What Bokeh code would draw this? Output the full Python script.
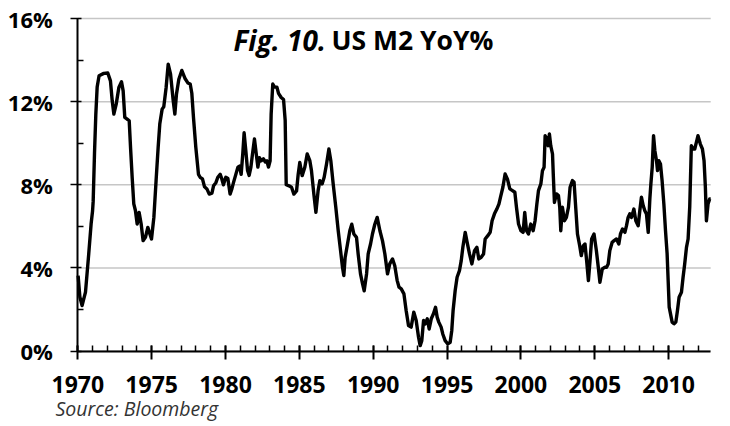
from bokeh.plotting import figure
from bokeh.models import Range1d, FixedTicker, PrintfTickFormatter, Label, ColumnDataSource
from bokeh.embed import file_html
from bokeh.resources import INLINE

title_italic = "Fig. 10."
title_bold = "US M2 YoY%"
source_note = "Source: Bloomberg"

x_ticks = [1970, 1975, 1980, 1985, 1990, 1995, 2000, 2005, 2010]
x_start, x_end = 1970, 2012.85
y_ticks = [0, 4, 8, 12, 16]
y_minor = [2, 6, 10, 14]

years = [
    1970.02, 1970.14, 1970.29, 1970.52, 1970.74, 1970.90, 1971.00, 1971.04, 1971.13, 1971.22,
    1971.31, 1971.44, 1971.76, 1972.03, 1972.21, 1972.33, 1972.44, 1972.60, 1972.78, 1972.96,
    1973.07, 1973.18, 1973.34, 1973.48, 1973.57, 1973.68, 1973.79, 1973.90, 1974.02, 1974.15,
    1974.29, 1974.42, 1974.58, 1974.74, 1974.88, 1974.99, 1975.15, 1975.30, 1975.44, 1975.55,
    1975.71, 1975.82, 1975.98, 1976.12, 1976.28, 1976.46, 1976.57, 1976.68, 1976.84, 1977.04,
    1977.27, 1977.45, 1977.61, 1977.72, 1977.83, 1977.99, 1978.17, 1978.28, 1978.44, 1978.58,
    1978.74, 1978.90, 1979.08, 1979.19, 1979.35, 1979.48, 1979.64, 1979.75, 1979.86, 1980.02,
    1980.16, 1980.31, 1980.43, 1980.54, 1980.70, 1980.84, 1980.95, 1981.06, 1981.17, 1981.26,
    1981.38, 1981.49, 1981.60, 1981.72, 1981.83, 1981.96, 1982.08, 1982.19, 1982.30, 1982.41,
    1982.57, 1982.69, 1982.80, 1982.91, 1983.02, 1983.09, 1983.20, 1983.32, 1983.48, 1983.59,
    1983.77, 1983.93, 1984.04, 1984.11, 1984.30, 1984.47, 1984.63, 1984.81, 1984.92, 1985.03,
    1985.19, 1985.37, 1985.53, 1985.71, 1985.82, 1985.98, 1986.12, 1986.27, 1986.39, 1986.54,
    1986.68, 1986.84, 1987.00, 1987.13, 1987.29, 1987.47, 1987.63, 1987.79, 1987.92, 1988.01,
    1988.10, 1988.26, 1988.42, 1988.55, 1988.69, 1988.87, 1988.98, 1989.14, 1989.28, 1989.39,
    1989.55, 1989.66, 1989.82, 1989.95, 1990.11, 1990.27, 1990.45, 1990.63, 1990.79, 1990.97,
    1991.12, 1991.31, 1991.46, 1991.62, 1991.75, 1991.90, 1992.08, 1992.23, 1992.39, 1992.57,
    1992.75, 1992.91, 1993.07, 1993.18, 1993.29, 1993.41, 1993.52, 1993.66, 1993.79, 1993.93,
    1994.08, 1994.22, 1994.33, 1994.44, 1994.60, 1994.71, 1994.87, 1995.05, 1995.21, 1995.32,
    1995.41, 1995.55, 1995.68, 1995.84, 1995.96, 1996.07, 1996.23, 1996.36, 1996.52, 1996.68,
    1996.86, 1997.02, 1997.15, 1997.31, 1997.47, 1997.58, 1997.76, 1997.92, 1998.05, 1998.21,
    1998.37, 1998.51, 1998.62, 1998.78, 1998.93, 1999.09, 1999.25, 1999.43, 1999.59, 1999.70,
    1999.84, 2000.00, 2000.15, 2000.26, 2000.38, 2000.51, 2000.67, 2000.83, 2000.96, 2001.08,
    2001.19, 2001.35, 2001.46, 2001.57, 2001.64, 2001.75, 2001.84, 2001.93, 2002.02, 2002.14,
    2002.20, 2002.27, 2002.41, 2002.54, 2002.63, 2002.70, 2002.81, 2002.95, 2003.08, 2003.22,
    2003.33, 2003.49, 2003.60, 2003.71, 2003.83, 2003.98, 2004.09, 2004.23, 2004.34, 2004.45,
    2004.57, 2004.68, 2004.79, 2004.95, 2005.11, 2005.24, 2005.35, 2005.51, 2005.69, 2005.80,
    2005.91, 2006.02, 2006.18, 2006.31, 2006.47, 2006.63, 2006.74, 2006.88, 2007.04, 2007.15,
    2007.26, 2007.37, 2007.49, 2007.65, 2007.78, 2007.94, 2008.05, 2008.16, 2008.28, 2008.39,
    2008.50, 2008.62, 2008.73, 2008.80, 2008.89, 2008.98, 2009.07, 2009.18, 2009.25, 2009.34,
    2009.45, 2009.56, 2009.68, 2009.79, 2009.90, 2009.97, 2010.04, 2010.13, 2010.24, 2010.37,
    2010.49, 2010.60, 2010.71, 2010.87, 2010.98, 2011.09, 2011.21, 2011.32, 2011.43, 2011.54,
    2011.66, 2011.77, 2011.88, 2011.99, 2012.15, 2012.29, 2012.40, 2012.49, 2012.56, 2012.67,
    2012.78, 2012.85,
]

m2_yoy = [
    3.63, 2.60, 2.19, 2.83, 4.67, 6.11, 6.75, 7.20, 9.50, 11.40,
    12.70, 13.25, 13.36, 13.38, 13.00, 12.04, 11.40, 11.88, 12.68, 12.96,
    12.52, 11.24, 11.16, 11.08, 9.80, 8.36, 7.08, 6.76, 6.11, 6.67,
    6.11, 5.31, 5.47, 5.95, 5.63, 5.39, 6.43, 8.20, 9.80, 10.92,
    11.64, 11.75, 12.68, 13.80, 13.32, 12.04, 11.40, 12.36, 13.08, 13.50,
    13.10, 12.90, 12.85, 12.40, 11.25, 9.80, 8.50, 8.36, 8.28, 7.90,
    7.80, 7.55, 7.60, 7.95, 8.10, 8.36, 8.50, 8.28, 8.00, 8.36,
    8.30, 7.55, 7.80, 8.10, 8.50, 8.85, 8.90, 8.50, 9.50, 10.50,
    9.60, 8.70, 8.45, 8.85, 9.50, 10.20, 9.50, 8.85, 9.30, 9.15,
    9.25, 9.10, 9.15, 8.85, 9.15, 11.40, 12.85, 12.70, 12.70, 12.40,
    12.20, 12.10, 11.10, 8.00, 7.95, 7.88, 7.55, 7.70, 8.50, 9.07,
    8.44, 8.84, 9.48, 9.16, 8.68, 7.56, 6.67, 7.72, 8.20, 8.04,
    8.36, 9.00, 9.72, 9.16, 8.04, 6.90, 5.80, 4.83, 4.03, 3.63,
    4.50, 5.15, 5.80, 6.10, 5.63, 5.47, 4.67, 3.71, 3.23, 2.90,
    3.71, 4.67, 5.15, 5.63, 6.10, 6.43, 5.80, 5.30, 4.67, 3.71,
    4.19, 4.43, 4.10, 3.40, 3.07, 2.99, 2.75, 1.95, 1.23, 1.15,
    1.87, 1.47, 0.66, 0.26, 0.50, 1.47, 1.30, 1.55, 1.06, 1.55,
    1.79, 2.10, 1.63, 1.39, 1.15, 0.82, 0.50, 0.34, 0.42, 0.99,
    1.95, 2.91, 3.55, 3.87, 4.35, 4.99, 5.71, 5.23, 4.67, 4.19,
    4.83, 4.99, 4.43, 4.51, 4.67, 5.39, 5.55, 5.71, 6.27, 6.60,
    6.83, 7.07, 7.40, 7.88, 8.52, 8.27, 7.80, 7.72, 7.64, 6.92,
    6.11, 5.79, 5.71, 6.67, 5.79, 5.63, 6.11, 5.79, 6.27, 7.07,
    7.72, 8.04, 8.68, 8.84, 10.36, 10.20, 9.88, 10.44, 9.88, 9.48,
    8.36, 7.15, 7.56, 7.48, 6.92, 5.79, 6.92, 6.27, 6.43, 6.92,
    7.88, 8.20, 8.12, 6.92, 5.63, 5.07, 4.59, 5.07, 5.15, 4.35,
    3.39, 4.35, 5.39, 5.63, 4.83, 4.03, 3.31, 3.95, 4.03, 4.03,
    4.19, 4.83, 5.23, 5.31, 5.39, 5.15, 5.63, 5.87, 5.71, 6.03,
    6.43, 6.60, 6.43, 6.83, 6.27, 6.03, 6.75, 7.40, 7.00, 6.75,
    6.60, 5.71, 7.32, 8.04, 8.84, 10.36, 9.64, 9.16, 8.68, 9.16,
    9.00, 8.20, 7.07, 5.79, 4.67, 3.39, 2.11, 1.79, 1.39, 1.31,
    1.39, 1.95, 2.59, 2.83, 3.55, 4.19, 4.99, 5.39, 6.92, 9.88,
    9.72, 9.72, 10.04, 10.36, 9.96, 9.72, 9.16, 7.88, 6.27, 7.07,
    7.32, 7.32,
]

src = ColumnDataSource(data=dict(year=years, yoy=m2_yoy))
grid_src = ColumnDataSource(data=dict(
    x0=[x_start] * len(y_ticks), x1=[x_end] * len(y_ticks), y=y_ticks))

# frame covers the whole canvas; axes are pinned at 1970 / 0%
p = figure(
    width=730, height=426,
    x_range=Range1d(1964.766, 2014.191), y_range=Range1d(-3.633, 16.867),
    output_backend="svg", toolbar_location=None,
    min_border_left=0, min_border_right=0, min_border_top=0, min_border_bottom=0,
)
p.outline_line_color = None
p.background_fill_color = "white"
p.border_fill_color = "white"
p.xgrid.visible = False
p.ygrid.visible = False

p.segment(x0="x0", y0="y", x1="x1", y1="y", source=grid_src,
          line_color="#c6c6c6", line_width=1.5)
p.line("year", "yoy", source=src, line_color="black", line_width=3.4, line_join="round")

# x axis
xa = p.xaxis[0]
xa.fixed_location = 0
xa.bounds = (x_start, x_end)
xa.ticker = FixedTicker(ticks=x_ticks, minor_ticks=list(range(1970, 2013)))
xa.formatter = PrintfTickFormatter(format="%d")
xa.axis_line_color = "black"
xa.axis_line_width = 2
xa.major_tick_line_color = "black"
xa.major_tick_line_width = 2
xa.major_tick_in = 6
xa.major_tick_out = 8
xa.minor_tick_line_color = "black"
xa.minor_tick_line_width = 1.5
xa.minor_tick_in = 6
xa.minor_tick_out = 0
xa.major_label_text_font = "Open Sans"
xa.major_label_text_font_style = "bold"
xa.major_label_text_font_size = "23px"
xa.major_label_text_color = "black"
xa.major_label_standoff = 17

# y axis
ya = p.yaxis[0]
ya.fixed_location = x_start
ya.bounds = (0, 16)
ya.ticker = FixedTicker(ticks=y_ticks, minor_ticks=y_minor)
ya.formatter = PrintfTickFormatter(format="%d%%")
ya.axis_line_color = "black"
ya.axis_line_width = 2
ya.major_tick_line_color = "black"
ya.major_tick_line_width = 1.5
ya.major_tick_in = 4
ya.major_tick_out = 7
ya.minor_tick_line_color = "black"
ya.minor_tick_line_width = 1.5
ya.minor_tick_in = 6
ya.minor_tick_out = 0
ya.major_label_text_font = "Open Sans"
ya.major_label_text_font_style = "bold"
ya.major_label_text_font_size = "22px"
ya.major_label_text_color = "black"
ya.major_label_standoff = 18

p.add_layout(Label(x=1980.54, y=14.99, text=title_italic, text_font="Open Sans",
                   text_font_style="bold italic", text_font_size="28px",
                   text_color="black", text_baseline="alphabetic"))
p.add_layout(Label(x=1987.18, y=14.99, text=title_bold, text_font="Open Sans",
                   text_font_style="bold", text_font_size="26.5px",
                   text_color="black", text_baseline="alphabetic"))
p.add_layout(Label(x=1968.49, y=-2.767, text=source_note, text_font="Open Sans",
                   text_font_style="italic", text_font_size="19.5px",
                   text_color="#333333", text_baseline="alphabetic"))

open("out.html", "w").write(file_html(p, INLINE))
